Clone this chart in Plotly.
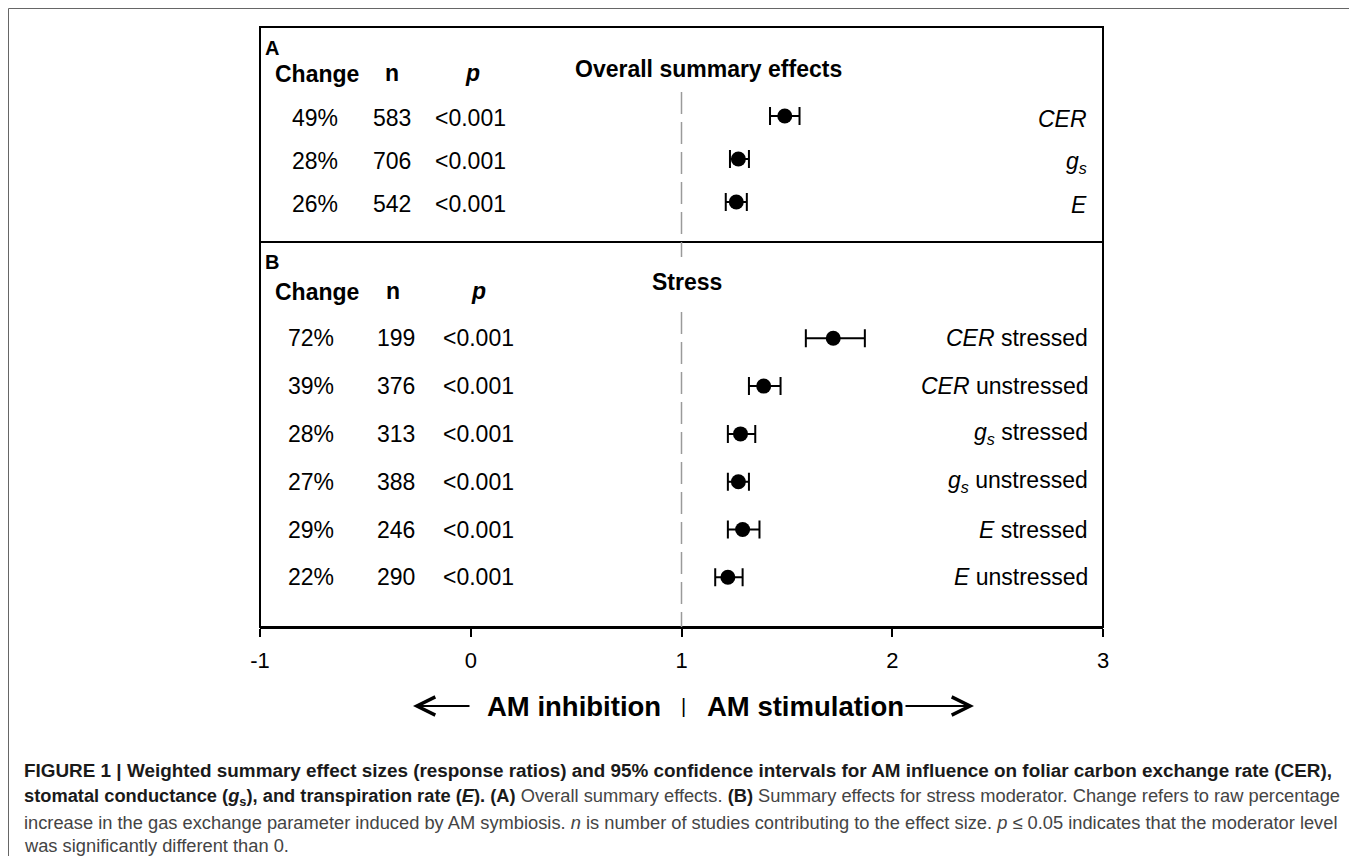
import plotly.graph_objects as go

# ---------------- data ----------------
# Panel A: overall summary effects
a_labels = ["<i>CER</i>", "<i>g<sub>s</sub></i>", "<i>E</i>"]
a_effect = [1.49, 1.27, 1.26]
a_lo = [1.42, 1.23, 1.21]
a_hi = [1.56, 1.32, 1.31]
a_change = ["49%", "28%", "26%"]
a_n = ["583", "706", "542"]
a_p = ["<0.001", "<0.001", "<0.001"]

# Panel B: stress moderator
b_labels = ["<i>CER</i> stressed", "<i>CER</i> unstressed", "<i>g<sub>s</sub></i> stressed",
            "<i>g<sub>s</sub></i> unstressed", "<i>E</i> stressed", "<i>E</i> unstressed"]
b_effect = [1.72, 1.39, 1.28, 1.27, 1.29, 1.22]
b_lo = [1.59, 1.32, 1.22, 1.22, 1.22, 1.16]
b_hi = [1.87, 1.47, 1.35, 1.32, 1.37, 1.29]
b_change = ["72%", "39%", "28%", "27%", "29%", "22%"]
b_n = ["199", "376", "313", "388", "246", "290"]
b_p = ["<0.001", "<0.001", "<0.001", "<0.001", "<0.001", "<0.001"]

x_ticks = [-1, 0, 1, 2, 3]
x_ticklabels = ["-1", "0", "1", "2", "3"]

# ---------------- layout helpers (page pixel coordinates) ----------------
PAGE_W, PAGE_H = 1357, 856
OFF = 8                       # default body margin of the page
W, H = PAGE_W - OFF, PAGE_H - OFF
L, R, T, B = 260, 1103, 27, 627
SPLIT = 242
FONT = "Liberation Sans, Arial, Helvetica, sans-serif"


def px(xp):
    return (xp - L) / (R - L)


def py(yp):
    return (B - yp) / (B - T)


split_paper = py(SPLIT)

fig = go.Figure()


def add_panel(labels, eff, lo, hi, xa, ya):
    fig.add_trace(go.Scatter(
        x=eff, y=labels, xaxis=xa, yaxis=ya, mode="markers",
        marker=dict(symbol="circle", size=15, color="black"),
        error_x=dict(type="data", symmetric=False,
                     array=[h - e for h, e in zip(hi, eff)],
                     arrayminus=[e - l for e, l in zip(eff, lo)],
                     color="black", thickness=2, width=9),
        showlegend=False, hoverinfo="skip", cliponaxis=False,
    ))


add_panel(a_labels, a_effect, a_lo, a_hi, "x", "y")
add_panel(b_labels, b_effect, b_lo, b_hi, "x2", "y2")

ann = []
txt = dict(family=FONT, size=23, color="black")


def row_text(labels, col, xpix, yref, shift=0):
    for lab, t in zip(labels, col):
        ann.append(dict(x=px(xpix), xref="paper", y=lab, yref=yref, text=t,
                        showarrow=False, xanchor="center", yanchor="middle",
                        yshift=shift, font=txt))


row_text(a_labels, a_change, 315, "y", -2)
row_text(a_labels, a_n, 392, "y", -2)
row_text(a_labels, a_p, 470, "y", -2)
row_text(b_labels, b_change, 311, "y2")
row_text(b_labels, b_n, 396, "y2")
row_text(b_labels, b_p, 478, "y2")

for lab in a_labels:
    ann.append(dict(x=px(1089), xref="paper", y=lab, yref="y", text=lab,
                    showarrow=False, xanchor="right", yanchor="middle", yshift=-3, font=txt))
for lab in b_labels:
    ann.append(dict(x=px(1090), xref="paper", y=lab, yref="y2", text=lab,
                    showarrow=False, xanchor="right", yanchor="middle", font=txt))


def ptext(text, xp, yp, size=23, anchor="center", color="black"):
    ann.append(dict(x=px(xp), xref="paper", y=py(yp), yref="paper", text=text,
                    showarrow=False, xanchor=anchor, yanchor="middle",
                    font=dict(family=FONT, size=size, color=color)))


# panel headers
ptext("<b>A</b>", 263, 48, size=20, anchor="left")
ptext("<b>Change</b>", 317, 74)
ptext("<b>n</b>", 392, 73)
ptext("<b><i>p</i></b>", 472, 73)
ptext("<b>Overall summary effects</b>", 708, 69)

ptext("<b>B</b>", 263, 262, size=20, anchor="left")
ptext("<b>Change</b>", 317, 292)
ptext("<b>n</b>", 393, 291)
ptext("<b><i>p</i></b>", 478, 291)
ptext("<b>Stress</b>", 687, 282)

# direction label
ptext("<b>AM inhibition</b>", 574, 706, size=27.5)
ptext("<b>AM stimulation</b>", 805, 706, size=27.5)
ptext("|", 683, 706, size=20)
ann.append(dict(x=px(413), xref="paper", y=py(706), yref="paper", text="",
                showarrow=True, ax=58, ay=0, arrowhead=5, arrowsize=1.8,
                arrowwidth=2, arrowcolor="black"))
ann.append(dict(x=px(974), xref="paper", y=py(706), yref="paper", text="",
                showarrow=True, ax=-70, ay=0, arrowhead=5, arrowsize=1.8,
                arrowwidth=2, arrowcolor="black"))

# caption
cap = [
    "<b>FIGURE 1 | Weighted summary effect sizes (response ratios) and 95% confidence intervals for AM influence on foliar carbon exchange rate (CER),</b>",
    "<b>stomatal conductance (<i>g</i><sub>s</sub>), and transpiration rate (<i>E</i>). (A)</b><span style='color:#444'> Overall summary effects. </span><b>(B)</b><span style='color:#444'> Summary effects for stress moderator. Change refers to raw percentage</span>",
    "<span style='color:#444'>increase in the gas exchange parameter induced by AM symbiosis. <i>n</i> is number of studies contributing to the effect size. <i>p</i> ≤ 0.05 indicates that the moderator level</span>",
    "<span style='color:#444'>was significantly different than 0.</span>",
]
cap_y = [770, 797, 822, 845]
cap_size = [18.9, 18.3, 18.3, 18.3]
for line, yy, sz in zip(cap, cap_y, cap_size):
    ann.append(dict(x=px(22), xref="paper", y=py(yy), yref="paper", text=line,
                    showarrow=False, xanchor="left", yanchor="middle",
                    font=dict(family=FONT, size=sz, color="#1a1a1a")))

shapes = [
    # outer gray frame
    dict(type="rect", xref="paper", yref="paper", x0=px(8.5), x1=px(1354.5), y0=py(880), y1=py(8.5),
         line=dict(color="#666", width=1)),
    # plot box
    dict(type="rect", xref="paper", yref="paper", x0=0, x1=1, y0=0, y1=1,
         line=dict(color="black", width=2)),
    dict(type="line", xref="paper", yref="paper", x0=0, x1=1, y0=split_paper, y1=split_paper,
         line=dict(color="black", width=2)),
    # no-effect reference line at x = 1
    dict(type="line", xref="x2", yref="paper", x0=1, x1=1, y0=py(92), y1=py(257),
         line=dict(color="#9a9a9a", width=1.5, dash="22px,8px")),
    dict(type="line", xref="x2", yref="paper", x0=1, x1=1, y0=py(312), y1=0,
         line=dict(color="#9a9a9a", width=1.5, dash="22px,8px")),
]

row_a = 43.0
row_b = 47.8
fig.update_layout(
    width=W, height=H, autosize=False,
    margin=dict(l=L - OFF, r=PAGE_W - R, t=T - OFF, b=PAGE_H - B, pad=0),
    paper_bgcolor="white", plot_bgcolor="white",
    font=dict(family=FONT, color="black"),
    xaxis=dict(domain=[0, 1], anchor="y", range=[-1, 3], showticklabels=False,
               showgrid=False, zeroline=False, showline=False, ticks=""),
    yaxis=dict(domain=[split_paper, 1], anchor="x", type="category",
               categoryarray=a_labels,
               range=[2 + (SPLIT - 202) / row_a, -(116 - T) / row_a],
               showticklabels=False, showgrid=False, zeroline=False, showline=False),
    xaxis2=dict(domain=[0, 1], anchor="y2", range=[-1, 3], tickvals=x_ticks,
                ticktext=x_ticklabels, ticks="outside", ticklen=8, tickwidth=1.5,
                tickcolor="black", showgrid=False, zeroline=False, showline=True,
                linecolor="black", linewidth=2, ticklabelstandoff=5,
                tickfont=dict(family=FONT, size=22, color="black")),
    yaxis2=dict(domain=[0, split_paper], anchor="x2", type="category",
                categoryarray=b_labels,
                range=[5 + (B - 577.3) / row_b, -(338.3 - SPLIT) / row_b],
                showticklabels=False, showgrid=False, zeroline=False, showline=False),
    annotations=ann, shapes=shapes,
)

fig.write_html("out.html")
